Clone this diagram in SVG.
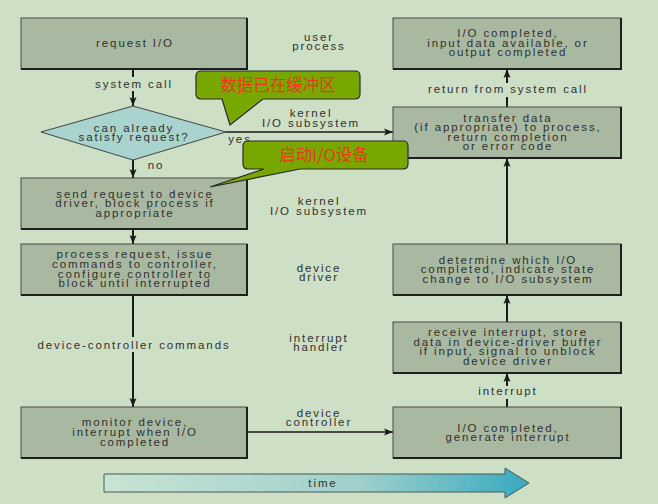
<svg xmlns="http://www.w3.org/2000/svg" width="658" height="504" viewBox="0 0 658 504">
<style>
.t{font-family:"Liberation Sans",Arial,sans-serif;font-size:11.5px;letter-spacing:1.9px;fill:#303030;text-anchor:middle}
.box{fill:#a9b9a1;stroke:#4a4a4a;stroke-width:1}
.sh{fill:none;stroke:#1e1e1e;stroke-width:2}
.v{stroke:#1a1a1a;stroke-width:2;fill:none}
.h{stroke:#1a1a1a;stroke-width:1.3;fill:none}
.call{fill:#78a800;stroke:#2a2a2a;stroke-width:1.2}
.ct{font-family:"Noto Sans CJK SC","Noto Sans",sans-serif;font-size:16.5px;fill:#e8391d;text-anchor:middle}
</style>
<defs>
<marker id="ah" markerUnits="userSpaceOnUse" markerWidth="10" markerHeight="10" viewBox="0 0 10 10" refX="9" refY="5" orient="auto">
<path d="M0,1.5 L9,5 L0,8.5 L2,5 Z" fill="#1a1a1a"/>
</marker>
<linearGradient id="tg" x1="0" y1="0" x2="1" y2="0">
<stop offset="0" stop-color="#c8e4d4"/>
<stop offset="0.6" stop-color="#9fd0cc"/>
<stop offset="1" stop-color="#38a9c0"/>
</linearGradient>
</defs>
<rect x="0" y="0" width="658" height="504" fill="#cddfc5"/>

<g id="connectors">
<path class="v" d="M133,69 V77"/>
<path class="v" d="M133,91 V106" marker-end="url(#ah)"/>
<path class="v" d="M133,160 V178" marker-end="url(#ah)"/>
<path class="v" d="M133,229 V244" marker-end="url(#ah)"/>
<path class="v" d="M133,295 V337"/>
<path class="v" d="M133,352 V407" marker-end="url(#ah)"/>
<path class="h" d="M226,132 H393" marker-end="url(#ah)"/>
<path class="h" d="M247,432 H393" marker-end="url(#ah)"/>
<path class="v" d="M507,407 V399"/>
<path class="v" d="M507,386 V373" marker-end="url(#ah)"/>
<path class="v" d="M507,322 V295" marker-end="url(#ah)"/>
<path class="v" d="M507,244 V158" marker-end="url(#ah)"/>
<path class="v" d="M507,107 V97"/>
<path class="v" d="M507,83 V69" marker-end="url(#ah)"/>
<text class="t" x="134" y="87.5">system call</text>
<text class="t" x="156" y="169">no</text>
<text class="t" x="240" y="143">yes</text>
<text class="t" x="134" y="348.5">device-controller commands</text>
<text class="t" x="508" y="92.5">return from system call</text>
<text class="t" x="508" y="394.5">interrupt</text>
</g>

<g id="lanes">
<text class="t" x="319" y="40.5">user</text>
<text class="t" x="319" y="50">process</text>
<text class="t" x="311" y="117">kernel</text>
<text class="t" x="311" y="126.5">I/O subsystem</text>
<text class="t" x="319" y="205">kernel</text>
<text class="t" x="319" y="214.5">I/O subsystem</text>
<text class="t" x="319" y="271.5">device</text>
<text class="t" x="319" y="281">driver</text>
<text class="t" x="319" y="341.5">interrupt</text>
<text class="t" x="319" y="351">handler</text>
<text class="t" x="319" y="416.5">device</text>
<text class="t" x="319" y="426">controller</text>
</g>

<g id="n_request">
<rect class="box" x="21" y="18" width="226" height="51"/>
<path class="sh" d="M247,18 V69 H21"/>
<text class="t" x="135" y="47">request I/O</text>
</g>

<g id="n_decide">
<polygon points="41,132 133,106 226,132 133,160" fill="#a8d3ce" stroke="#454545" stroke-width="1"/>
<text class="t" x="134" y="132">can already</text>
<text class="t" x="134" y="141">satisfy request?</text>
</g>

<g id="n_send">
<rect class="box" x="21" y="178" width="226" height="51"/>
<path class="sh" d="M247,178 V229 H21"/>
<text class="t" x="135" y="197.5">send request to device</text>
<text class="t" x="135" y="207">driver, block process if</text>
<text class="t" x="135" y="216.5">appropriate</text>
</g>

<g id="n_process">
<rect class="box" x="21" y="244" width="226" height="51"/>
<path class="sh" d="M247,244 V295 H21"/>
<text class="t" x="135" y="258">process request, issue</text>
<text class="t" x="135" y="268">commands to controller,</text>
<text class="t" x="135" y="277.5">configure controller to</text>
<text class="t" x="135" y="287">block until interrupted</text>
</g>

<g id="n_monitor">
<rect class="box" x="21" y="407" width="226" height="51"/>
<path class="sh" d="M247,407 V458 H21"/>
<text class="t" x="135" y="426">monitor device,</text>
<text class="t" x="135" y="436">interrupt when I/O</text>
<text class="t" x="135" y="446">completed</text>
</g>

<g id="n_iocomplete">
<rect class="box" x="393" y="18" width="228" height="51"/>
<path class="sh" d="M621,18 V69 H393"/>
<text class="t" x="508" y="37">I/O completed,</text>
<text class="t" x="508" y="46.5">input data available, or</text>
<text class="t" x="508" y="56">output completed</text>
</g>

<g id="n_transfer">
<rect class="box" x="393" y="107" width="228" height="51"/>
<path class="sh" d="M621,107 V158 H393"/>
<text class="t" x="508" y="121.5">transfer data</text>
<text class="t" x="508" y="131">(if appropriate) to process,</text>
<text class="t" x="508" y="140.5">return completion</text>
<text class="t" x="508" y="150">or error code</text>
</g>

<g id="n_determine">
<rect class="box" x="393" y="244" width="228" height="51"/>
<path class="sh" d="M621,244 V295 H393"/>
<text class="t" x="508" y="263.5">determine which I/O</text>
<text class="t" x="508" y="273">completed, indicate state</text>
<text class="t" x="508" y="283">change to I/O subsystem</text>
</g>

<g id="n_receive">
<rect class="box" x="393" y="322" width="228" height="51"/>
<path class="sh" d="M621,322 V373 H393"/>
<text class="t" x="508" y="335.5">receive interrupt, store</text>
<text class="t" x="508" y="345.5">data in device-driver buffer</text>
<text class="t" x="508" y="355">if input, signal to unblock</text>
<text class="t" x="508" y="364.5">device driver</text>
</g>

<g id="n_generate">
<rect class="box" x="393" y="407" width="228" height="51"/>
<path class="sh" d="M621,407 V458 H393"/>
<text class="t" x="508" y="431.5">I/O completed,</text>
<text class="t" x="508" y="441">generate interrupt</text>
</g>

<g id="callout_buffer">
<path class="call" d="M201,71 H355 Q360,71 360,76 V94 Q360,99 355,99 H263 L230,125 L222,99 H201 Q196,99 196,94 V76 Q196,71 201,71 Z"/>
<text class="ct" x="278" y="91">数据已在缓冲区</text>
</g>

<g id="callout_start">
<path class="call" d="M248,141 H403 Q408,141 408,146 V164 Q408,169 403,169 H300 L210,187 L264,169 H248 Q243,169 243,164 V146 Q243,141 248,141 Z"/>
<text class="ct" x="324" y="161">启动I/O设备</text>
</g>

<g id="time">
<polygon points="104,474 505,474 505,468 529,483 505,498 505,492 104,492" fill="url(#tg)" stroke="#4a5a5a" stroke-width="1"/>
<text class="t" x="323" y="487">time</text>
</g>
</svg>
